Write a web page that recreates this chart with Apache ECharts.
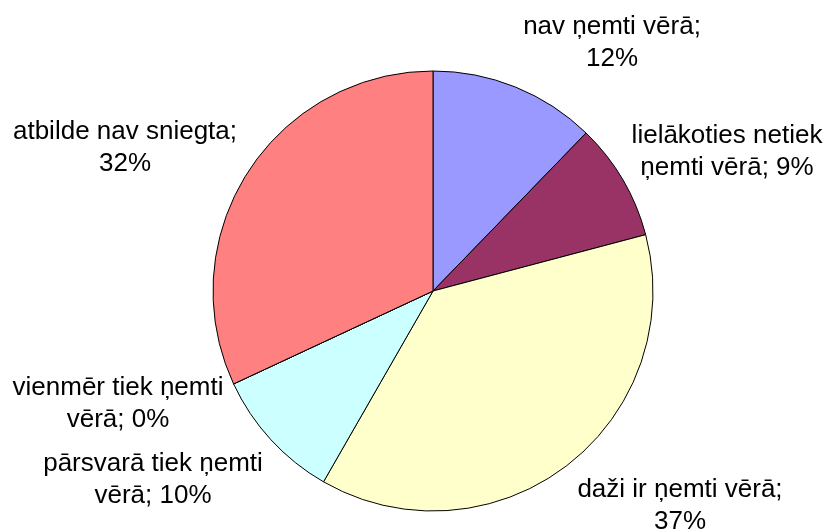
<!DOCTYPE html>
<html>
<head>
<meta charset="utf-8">
<script src="https://cdn.jsdelivr.net/npm/echarts@6/dist/echarts.min.js"></script>
<style>
  html, body { margin: 0; padding: 0; background: #fff; }
  #chart { width: 829px; height: 532px; }
</style>
</head>
<body>
<div id="chart"></div>
<script>
// slices, clockwise from 12 o'clock
const categories = [
  'nav ņemti vērā',
  'lielākoties netiek ņemti vērā',
  'daži ir ņemti vērā',
  'pārsvarā tiek ņemti vērā',
  'vienmēr tiek ņemti vērā',
  'atbilde nav sniegta'
];
const shares = [12.25, 8.63, 37.41, 9.77, 0, 31.94];

const colors = ['#9999FF', '#993366', '#FFFFCC', '#CCFFFF', '#660066', '#FF8080'];
// how many words go on the first label line
const wrapWords = [3, 2, 4, 3, 3, 3];
// label block centres
const labelPos = [[612, 43], [727, 152], [680, 506], [153, 480], [118, 404], [125, 148]];

const chart = echarts.init(document.getElementById('chart'));

const option = {
  backgroundColor: '#ffffff',
  animation: false,
  series: [{
    type: 'pie',
    center: [433, 291],
    radius: 220,
    startAngle: 90,
    clockwise: true,
    data: categories.map((name, i) => ({
      name: name,
      value: shares[i],
      itemStyle: { color: colors[i] }
    })),
    itemStyle: { borderColor: '#000', borderWidth: 1 },
    emphasis: { disabled: true },
    label: {
      show: true,
      position: 'outside',
      color: '#000',
      fontFamily: '"Liberation Sans", Arial, sans-serif',
      fontSize: 26,
      lineHeight: 32,
      align: 'center',
      overflow: 'none',
      formatter: (p) => {
        const words = (p.name + '; ' + Math.round(p.percent) + '%').split(' ');
        const n = wrapWords[p.dataIndex];
        return words.slice(0, n).join(' ') + '\n' + words.slice(n).join(' ');
      }
    },
    labelLine: { show: false },
    labelLayout: (params) => ({
      x: labelPos[params.dataIndex][0],
      y: labelPos[params.dataIndex][1],
      align: 'center',
      verticalAlign: 'middle'
    })
  }]
};

chart.setOption(option);
</script>
</body>
</html>
